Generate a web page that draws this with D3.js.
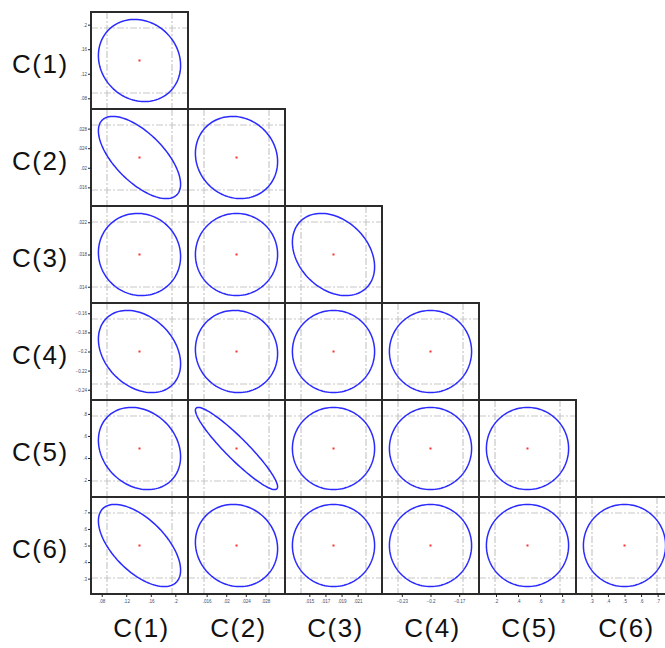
<!DOCTYPE html>
<html>
<head>
<meta charset="utf-8">
<script src="https://cdn.jsdelivr.net/npm/d3@7"></script>
<style>
  body { margin: 0; background: #fff; }
  svg { display: block; font-family: "Liberation Sans", Arial, sans-serif; }
</style>
</head>
<body>
<div id="chart"></div>
<script>
// variables shown in the matrix
const vars = ["C(1)", "C(2)", "C(3)", "C(4)", "C(5)", "C(6)"];
// centre of each ellipse and its half extent (data units)
const means = [0.1416, 0.0221, 0.018, -0.20, 0.486, 0.5];
const halfs = [0.067, 0.0084, 0.0051, 0.043, 0.373, 0.248];
// tick values on the left axis (rows) and bottom axis (columns)
const yTicks = [
  [0.08, 0.12, 0.16, 0.20],
  [0.016, 0.020, 0.024, 0.028],
  [0.014, 0.018, 0.022],
  [-0.24, -0.22, -0.20, -0.18, -0.16],
  [0.2, 0.4, 0.6, 0.8],
  [0.3, 0.4, 0.5, 0.6, 0.7]
];
const xTicks = [
  [0.08, 0.12, 0.16, 0.20],
  [0.016, 0.020, 0.024, 0.028],
  [0.015, 0.017, 0.019, 0.021],
  [-0.23, -0.20, -0.17],
  [0.2, 0.4, 0.6, 0.8],
  [0.3, 0.4, 0.5, 0.6, 0.7]
];
// correlation, lower triangle (row i, column j <= i)
const corr = [
  [-0.12],
  [-0.65, -0.10],
  [-0.05, 0.00, -0.30],
  [-0.30, -0.05, 0.00, 0.00],
  [-0.20, -0.93, 0.00, 0.00, 0.00],
  [-0.60, -0.08, 0.00, 0.00, 0.00, 0.00]
];

const width = 665, height = 648;
const marginLeft = 91, marginTop = 12, cell = 97;
const pad = 1.18;   // axis range relative to ellipse half extent
const inset = 16;   // grid line inset inside each cell

const svg = d3.select("#chart").append("svg")
  .attr("width", width)
  .attr("height", height);

const colBand = d3.scaleBand().domain(vars).range([marginLeft, marginLeft + cell * vars.length]);
const rowBand = d3.scaleBand().domain(vars).range([marginTop, marginTop + cell * vars.length]);

const fmt = v => d3.format("")(+v.toFixed(4)).replace(/^(-?)0\./, "$1.");

vars.forEach((yv, i) => {
  for (let j = 0; j <= i; j++) {
    const xv = vars[j];
    const x0 = colBand(xv), y0 = rowBand(yv);
    const g = svg.append("g");

    const x = d3.scaleLinear()
      .domain([means[j] - pad * halfs[j], means[j] + pad * halfs[j]])
      .range([x0, x0 + cell]);
    const y = d3.scaleLinear()
      .domain([means[i] - pad * halfs[i], means[i] + pad * halfs[i]])
      .range([y0 + cell, y0]);

    // dash-dot grid
    const grid = g.append("g")
      .attr("stroke", "#c8c8c8")
      .attr("stroke-width", 1.2)
      .attr("stroke-dasharray", "7,2,2,2");
    [x0 + inset, x0 + cell - inset].forEach(gx =>
      grid.append("line").attr("x1", gx).attr("x2", gx).attr("y1", y0).attr("y2", y0 + cell));
    [y0 + inset, y0 + cell - inset].forEach(gy =>
      grid.append("line").attr("y1", gy).attr("y2", gy).attr("x1", x0).attr("x2", x0 + cell));

    // confidence ellipse
    const r = corr[i][j];
    const pts = d3.range(0, 361, 3).map(a => {
      const t = a * Math.PI / 180;
      return [
        x(means[j] + halfs[j] * Math.cos(t)),
        y(means[i] + halfs[i] * (r * Math.cos(t) + Math.sqrt(1 - r * r) * Math.sin(t)))
      ];
    });
    g.append("path")
      .attr("d", d3.line().curve(d3.curveLinearClosed)(pts))
      .attr("fill", "none")
      .attr("stroke", "#2a2aff")
      .attr("stroke-width", 1.5);

    // centre point
    g.append("rect")
      .attr("x", x(means[j]) - 1)
      .attr("y", y(means[i]) - 1)
      .attr("width", 2)
      .attr("height", 2)
      .attr("fill", "#ff3030");

    // frame
    g.append("rect")
      .attr("x", x0).attr("y", y0)
      .attr("width", cell).attr("height", cell)
      .attr("fill", "none")
      .attr("stroke", "#2b2b2b")
      .attr("stroke-width", 2);

    // left axis ticks on first column
    if (j === 0) {
      g.append("g")
        .attr("transform", `translate(${x0},0)`)
        .call(d3.axisLeft(y).tickValues(yTicks[i]).tickSize(3).tickFormat(fmt))
        .call(a => a.select(".domain").remove())
        .call(a => a.selectAll("line").attr("stroke", "#222"))
        .call(a => a.selectAll("text").attr("font-size", 4.5).attr("fill", "#3a4a70").attr("x", -4));
    }
    // bottom axis ticks on last row
    if (i === vars.length - 1) {
      g.append("g")
        .attr("transform", `translate(0,${y0 + cell})`)
        .call(d3.axisBottom(x).tickValues(xTicks[j]).tickSize(3).tickFormat(fmt))
        .call(a => a.select(".domain").remove())
        .call(a => a.selectAll("line").attr("stroke", "#222"))
        .call(a => a.selectAll("text").attr("font-size", 4.5).attr("fill", "#3a4a70").attr("y", 6));
    }
  }
});

// row labels
svg.append("g").selectAll("text")
  .data(vars)
  .join("text")
  .attr("x", 12)
  .attr("y", d => rowBand(d) + cell / 2 + 12)
  .attr("font-size", 26)
  .attr("letter-spacing", 1.5)
  .attr("fill", "#111")
  .text(d => d);

// column labels
svg.append("g").selectAll("text")
  .data(vars)
  .join("text")
  .attr("x", d => colBand(d) + cell / 2 + 2)
  .attr("y", 637)
  .attr("text-anchor", "middle")
  .attr("font-size", 26)
  .attr("letter-spacing", 1.5)
  .attr("fill", "#111")
  .text(d => d);
</script>
</body>
</html>
